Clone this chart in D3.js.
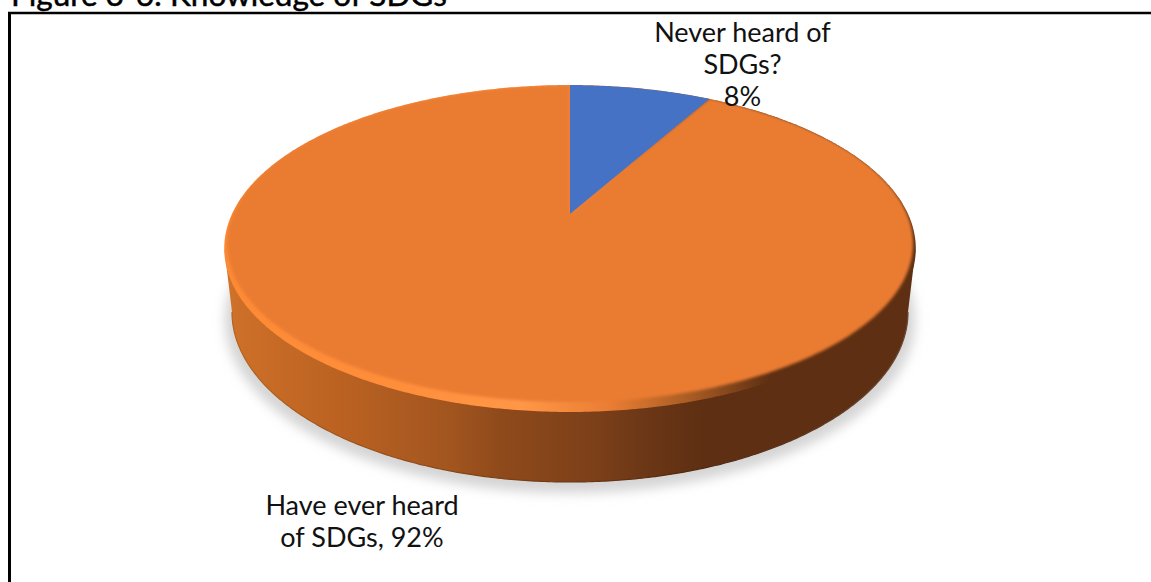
<!DOCTYPE html>
<html><head><meta charset="utf-8">
<script src="https://cdn.jsdelivr.net/npm/d3@7"></script>
<style>html,body{margin:0;padding:0;background:#fff;overflow:hidden}svg{display:block}</style>
</head><body><div id="c"></div>
<script>
const titleText = "Figure 3-6: Knowledge of SDGs";
const categories = ["Never heard of SDGs?", "Have ever heard of SDGs"];
const values = [8, 92];
const colors = ["#4472c4", "#ea7b30"];

(function () {
const W = 1151, H = 582;
const svg = d3.select("#c").append("svg").attr("width", W).attr("height", H);
const defs = svg.append("defs");

// Perspective projection of the unit disc (u right, v toward viewer) onto the page
const project = (cx, cy, A, B, k) => (u, v) => {
  const w = 1 - k * v;
  return [cx + A * u / w, cy + B * v / w];
};
const rimProj = project(570, 214, 338, 156.2, 0.211);
const faceProj = project(570, 214, 337, 153, 0.186);
const baseProj = project(570, 312, 338, 170, 0);

const line = d3.line().curve(d3.curveLinear);
const arcPoints = (proj, a0, a1) => {
  const n = Math.max(2, Math.ceil((a1 - a0) / 0.01));
  return d3.range(n + 1).map(i => {
    const a = a0 + (a1 - a0) * i / n;
    return proj(Math.sin(a), -Math.cos(a));
  });
};
const disc = proj => line(arcPoints(proj, 0, 2 * Math.PI)) + "Z";

const pie = d3.pie().sort(null).value(d => d)(values);

// gradients and filters
const hGrad = (id, stops) => {
  const g = defs.append("linearGradient").attr("id", id).attr("gradientUnits", "userSpaceOnUse")
    .attr("x1", 224).attr("x2", 916).attr("y1", 0).attr("y2", 0);
  stops.forEach(([x, c]) => g.append("stop").attr("offset", (x - 224) / 692).attr("stop-color", c));
};
hGrad("side", [[224,"#d0732b"],[240,"#cc6f28"],[340,"#bb6222"],[450,"#a2551f"],[500,"#8f4a1b"],[600,"#7b3f19"],[650,"#6a3616"],[705,"#5e2f12"],[916,"#5e2f12"]]);
hGrad("rim", [[224,"#fd8a35"],[400,"#ff8e3b"],[520,"#ff9747"],[610,"#ea7d33"],[690,"#a85c24"],[770,"#5e2f12"],[916,"#5e2f12"]]);
hGrad("edge", [[224,"#b8641f"],[500,"#7e3f14"],[705,"#4f260d"],[916,"#6a4a35"]]);
const blur = (id, s) => defs.append("filter").attr("id", id)
  .attr("x", "-5%").attr("y", "-10%").attr("width", "110%").attr("height", "120%")
  .append("feGaussianBlur").attr("stdDeviation", s);
blur("soft", 6);
blur("sliceBlur1", 1.8);
blur("sliceBlur0", 0.6);
defs.append("clipPath").attr("id", "topClip").append("path").attr("d", disc(rimProj));

// frame
svg.append("line").attr("x1", 8).attr("x2", W).attr("y1", 13).attr("y2", 13).attr("stroke", "#000").attr("stroke-width", 2.4);
svg.append("line").attr("x1", 9.5).attr("x2", 9.5).attr("y1", 12).attr("y2", H).attr("stroke", "#000").attr("stroke-width", 3);

// title
svg.append("text").attr("x", 11).attr("y", 6).text(titleText)
  .attr("font-family", "Lato").attr("font-size", 31.5).attr("fill", "#000")
  .attr("stroke", "#000").attr("stroke-width", 0.5);

// shadow
svg.append("path").attr("d", disc(project(570, 320, 345, 173, 0)))
  .attr("fill", "#d4d4d4").attr("filter", "url(#soft)");

// side wall: from the rim's widest points down around the base front
const basePts = arcPoints(baseProj, Math.PI * 0.5, Math.PI * 1.5);
const sideD = line([[915.5, 250], ...basePts, [224.5, 250]]) + "Z";
svg.append("path").attr("d", sideD).attr("fill", "url(#side)");
svg.append("path").attr("d", line(basePts)).attr("fill", "none").attr("stroke", "url(#edge)").attr("stroke-width", 1.2);

// top: bevel ring, then the slices (larger one first, softly blurred into the ring)
svg.append("path").attr("d", disc(rimProj)).attr("fill", "url(#rim)");
const face = svg.append("g").attr("clip-path", "url(#topClip)");
face.selectAll("path.slice").data(pie.slice().reverse()).join("path").attr("class", "slice")
  .attr("d", d => line([faceProj(0, 0), ...arcPoints(faceProj, d.startAngle, d.endAngle)]) + "Z")
  .attr("fill", d => colors[d.index])
  .attr("filter", d => `url(#sliceBlur${d.index})`);

// labels
const labelLines = [
  ["Never heard of", "SDGs?", values[0] + "%"],
  ["Have ever heard", "of SDGs, " + values[1] + "%"]
];
const labelPos = [[742.5, [42, 74, 106]], [362, [515, 547]]];
labelLines.forEach((ls, i) => {
  ls.forEach((t, j) => {
    svg.append("text").attr("x", labelPos[i][0]).attr("y", labelPos[i][1][j])
      .attr("text-anchor", "middle").attr("font-family", "Lato")
      .attr("font-size", 27).attr("fill", "#111").text(t);
  });
});
})();
</script></body></html>
